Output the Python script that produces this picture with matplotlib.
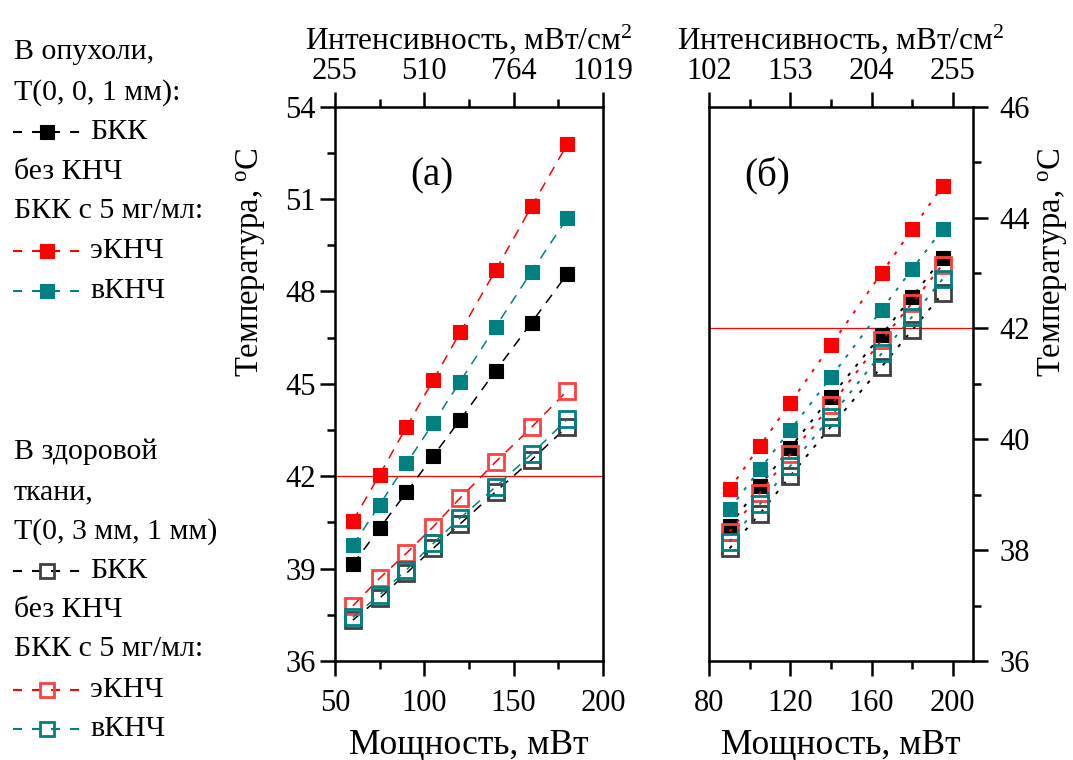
import numpy as np
import matplotlib
matplotlib.use('Agg')
import matplotlib.pyplot as plt
from matplotlib.lines import Line2D

plt.rcParams['font.family'] = ['Liberation Serif', 'DejaVu Serif']
plt.rcParams['mathtext.fontset'] = 'custom'
plt.rcParams['mathtext.rm'] = 'Liberation Serif'
plt.rcParams['mathtext.it'] = 'Liberation Serif:italic'
plt.rcParams['lines.scale_dashes'] = False

# ---- data, panel (a): tumour T(0,0,1mm) and healthy tissue T(0,3mm,1mm)
power_a = [60, 75, 90, 105, 120, 140, 160, 180]
tumor_bkk_a = [39.14, 40.31, 41.48, 42.66, 43.83, 45.43, 46.99, 48.57]
tumor_e_a = [40.55, 42.05, 43.60, 45.12, 46.67, 48.70, 50.76, 52.78]
tumor_v_a = [39.75, 41.07, 42.42, 43.72, 45.07, 46.86, 48.64, 50.38]
healthy_bkk_a = [37.33, 38.04, 38.85, 39.66, 40.45, 41.50, 42.53, 43.61]
healthy_e_a = [37.79, 38.69, 39.50, 40.36, 41.29, 42.47, 43.59, 44.78]
healthy_v_a = [37.42, 38.15, 38.96, 39.82, 40.64, 41.66, 42.72, 43.85]

# ---- data, panel (б)
power_b = [90, 105, 120, 140, 165, 180, 195]
tumor_bkk_b = [38.44, 39.16, 39.85, 40.77, 41.89, 42.57, 43.27]
tumor_e_b = [39.10, 39.88, 40.66, 41.70, 43.00, 43.79, 44.57]
tumor_v_b = [38.74, 39.46, 40.17, 41.12, 42.34, 43.07, 43.79]
healthy_bkk_b = [38.03, 38.66, 39.34, 40.23, 41.31, 41.97, 42.63]
healthy_e_b = [38.33, 39.03, 39.73, 40.62, 41.79, 42.46, 43.15]
healthy_v_b = [38.15, 38.83, 39.52, 40.41, 41.55, 42.21, 42.89]

# top axis: intensity labels at given power ticks
ticks_a = [50, 100, 150, 200]
intensity_a = ['255', '510', '764', '1019']
ticks_b = [80, 120, 160, 200]
intensity_b = ['102', '153', '204', '255']

threshold = 42

BLACK = 'black'
RED = '#ff0000'
TEAL = '#008080'
GRAY_OPEN = '#404040'
RED_OPEN = '#ff4040'

FS_TICK = 22
FS_XLABEL = 25.5
FS_YLABEL = 23.5
FS_TOP = 22.5

fig = plt.figure(figsize=(10.73, 7.6), dpi=100)
ax_a = fig.add_axes([0.3122, 0.1303, 0.2498, 0.7293])
ax_b = fig.add_axes([0.6610, 0.1303, 0.2458, 0.7293])


def draw_series(ax, x, ys, dashes, lw):
    filled = [(ys[0], BLACK), (ys[1], RED), (ys[2], TEAL)]
    opened = [(ys[3], BLACK, GRAY_OPEN), (ys[4], RED, RED_OPEN), (ys[5], TEAL, TEAL)]
    for y, c in filled:
        ax.plot(x, y, color=c, lw=lw, dashes=dashes, marker='s', ms=10.5,
                mfc=c, mec=c, mew=0.8)
    for y, lc, mc in opened:
        ax.plot(x, y, color=lc, lw=lw, dashes=dashes, marker='s', ms=11,
                mfc='none', mec=mc, mew=2.0)


def style_ticks(ax):
    ax.tick_params(which='both', direction='out', width=1.8, labelsize=FS_TICK)
    ax.tick_params(which='major', length=11)
    ax.tick_params(which='minor', length=5.5)


def style_axes(ax, side):
    for s in ax.spines.values():
        s.set_linewidth(1.8)
    style_ticks(ax)
    ax.tick_params(axis='x', pad=9)
    if side == 'left':
        ax.tick_params(axis='y', left=True, right=False, labelleft=True, pad=3)
    else:
        ax.yaxis.tick_right()
        ax.yaxis.set_label_position('right')
        ax.tick_params(axis='y', left=False, right=True, labelright=True,
                       which='both', pad=8)


def add_top(ax, ticks, labels, minor):
    top = ax.twiny()
    top.set_xlim(ax.get_xlim())
    top.set_xticks(ticks)
    top.set_xticklabels(labels)
    top.set_xticks(minor, minor=True)
    style_ticks(top)
    top.tick_params(axis='x', pad=4)
    top.set_xlabel('Интенсивность, мВт/см$^2$', fontsize=FS_TOP)
    top.xaxis.set_label_coords(0.5, 1.105)
    return top


# panel (a)
draw_series(ax_a, power_a,
            [tumor_bkk_a, tumor_e_a, tumor_v_a, healthy_bkk_a, healthy_e_a, healthy_v_a],
            (7.2, 5.8), 1.1)
ax_a.axhline(threshold, color=RED, lw=0.9, zorder=1)
ax_a.set_xlim(50, 200)
ax_a.set_ylim(36, 54)
ax_a.set_xticks(ticks_a)
ax_a.set_xticks([75, 125, 175], minor=True)
ax_a.set_yticks(np.arange(36, 55, 3))
ax_a.set_yticks(np.arange(37.5, 54, 3), minor=True)
style_axes(ax_a, 'left')
ax_a.set_xlabel('Мощность, мВт', fontsize=FS_XLABEL)
ax_a.xaxis.set_label_coords(0.5, -0.122)
ax_a.set_ylabel('Температура, $^\\mathrm{o}$C', fontsize=FS_YLABEL)
ax_a.yaxis.set_label_coords(-0.25, 0.72)
ax_a.text(0.36, 0.875, '(а)', transform=ax_a.transAxes, fontsize=28,
          ha='center', va='center')
add_top(ax_a, ticks_a, intensity_a, [75, 125, 175])

# panel (б)
draw_series(ax_b, power_b,
            [tumor_bkk_b, tumor_e_b, tumor_v_b, healthy_bkk_b, healthy_e_b, healthy_v_b],
            (2.5, 6.1), 1.4)
ax_b.axhline(threshold, color=RED, lw=0.9, zorder=1)
ax_b.set_xlim(80, 210)
ax_b.set_ylim(36, 46)
ax_b.set_xticks(ticks_b)
ax_b.set_xticks([100, 140, 180], minor=True)
ax_b.set_yticks(np.arange(36, 47, 2))
ax_b.set_yticks(np.arange(37, 46, 2), minor=True)
style_axes(ax_b, 'right')
ax_b.set_xlabel('Мощность, мВт', fontsize=FS_XLABEL)
ax_b.xaxis.set_label_coords(0.5, -0.122)
ax_b.set_ylabel('Температура, $^\\mathrm{o}$C', fontsize=FS_YLABEL)
ax_b.yaxis.set_label_coords(1.24, 0.72)
ax_b.text(0.22, 0.875, '(б)', transform=ax_b.transAxes, fontsize=28,
          ha='center', va='center')
add_top(ax_b, ticks_b, intensity_b, [100, 140, 180])

# ---- legend (Origin-style block on the left)
W, H = 1073.0, 760.0


def legend_symbol(y_px, line_c, mark_c, filled):
    y = 1 - y_px / H
    fig.add_artist(Line2D([13 / W, 80 / W], [y, y], transform=fig.transFigure,
                          color=line_c, lw=1.5, dashes=(6.5, 7.2)))
    fig.add_artist(Line2D([47 / W], [y], transform=fig.transFigure, marker='s',
                          ms=10 if filled else 10.5,
                          mfc=mark_c if filled else 'none', mec=mark_c,
                          mew=0.8 if filled else 2.0, lw=0))


def legend_text(y_px, s, x_px=14):
    fig.text(x_px / W, 1 - y_px / H, s, fontsize=21.5, ha='left', va='center')


legend_text(52, 'В опухоли,')
legend_text(93, 'Т(0, 0, 1 мм):')
legend_symbol(132, BLACK, BLACK, True)
legend_text(132, 'БКК', 90)
legend_text(172, 'без КНЧ')
legend_text(211, 'БКК с 5 мг/мл:')
legend_symbol(251, RED, RED, True)
legend_text(251, 'эКНЧ', 90)
legend_symbol(291, TEAL, TEAL, True)
legend_text(291, 'вКНЧ', 90)

legend_text(452, 'В здоровой')
legend_text(492, 'ткани,')
legend_text(532, 'Т(0, 3 мм, 1 мм)')
legend_symbol(571, BLACK, GRAY_OPEN, False)
legend_text(571, 'БКК', 90)
legend_text(610, 'без КНЧ')
legend_text(649, 'БКК с 5 мг/мл:')
legend_symbol(690, RED, RED_OPEN, False)
legend_text(690, 'эКНЧ', 90)
legend_symbol(729, TEAL, TEAL, False)
legend_text(729, 'вКНЧ', 90)

fig.savefig('out.png', dpi=100)
